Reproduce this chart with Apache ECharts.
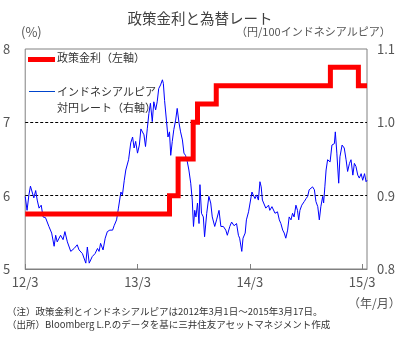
<!DOCTYPE html>
<html><head><meta charset="utf-8">
<script src="https://cdn.jsdelivr.net/npm/echarts@6/dist/echarts.min.js"></script>
<style>html,body{margin:0;padding:0;background:#fff}#c{width:407px;height:342px}</style>
</head><body><div id="c"></div>
<script>
const titleText = '政策金利と為替レート';
const leftUnit = '(%)';
const rightUnit = '（円/100インドネシアルピア）';
const xUnit = '（年/月）';
const note1 = '（注）政策金利とインドネシアルピアは2012年3月1日～2015年3月17日。';
const note2 = '（出所）Bloomberg L.P.のデータを基に三井住友アセットマネジメント作成';
const rateName = '政策金利（左軸）';
const fxName = 'インドネシアルピア\n対円レート（右軸）';

const tickDates = ['2012-03-01','2013-03-01','2014-03-01','2015-03-01'];
const tickLabels = ['12/3','13/3','14/3','15/3'];

const rateDates = ['2012-03-01','2013-06-13','2013-07-11','2013-08-29','2013-09-12','2013-11-12','2014-11-18','2015-02-17','2015-03-17'];
const rateValues = [5.75,6.00,6.50,7.00,7.25,7.50,7.75,7.50,7.50];

const fxDates = [
'2012-03-01','2012-03-07','2012-03-13','2012-03-18','2012-03-24','2012-03-29','2012-04-04','2012-04-09','2012-04-15','2012-04-22',
'2012-04-28','2012-05-06','2012-05-17','2012-05-26','2012-06-03','2012-06-08','2012-06-13','2012-06-24','2012-07-02','2012-07-08',
'2012-07-16','2012-07-27','2012-08-07','2012-08-17','2012-08-23','2012-09-03','2012-09-08','2012-09-14','2012-09-19','2012-09-25',
'2012-10-05','2012-10-14','2012-10-22','2012-10-27','2012-11-01','2012-11-09','2012-11-16','2012-11-23','2012-12-01','2012-12-10',
'2012-12-15','2012-12-23','2012-12-29','2013-01-06','2013-01-11','2013-01-17','2013-01-22','2013-01-31','2013-02-07','2013-02-13',
'2013-02-18','2013-02-23','2013-03-01','2013-03-07','2013-03-12','2013-03-16','2013-03-22','2013-03-27','2013-04-02','2013-04-07',
'2013-04-12','2013-04-18','2013-04-23','2013-04-29','2013-05-04','2013-05-09','2013-05-15','2013-05-21','2013-05-24','2013-05-28',
'2013-06-03','2013-06-08','2013-06-13','2013-06-17','2013-06-22','2013-06-27','2013-07-03','2013-07-08','2013-07-14','2013-07-19',
'2013-07-25','2013-07-30','2013-08-04','2013-08-10','2013-08-15','2013-08-21','2013-08-26','2013-08-30','2013-09-03','2013-09-07',
'2013-09-12','2013-09-17','2013-09-20','2013-09-25','2013-10-01','2013-10-05','2013-10-12','2013-10-19','2013-10-25','2013-10-30',
'2013-11-07','2013-11-13','2013-11-21','2013-11-27','2013-12-05','2013-12-13','2013-12-18','2013-12-26','2014-01-01','2014-01-09',
'2014-01-17','2014-01-23','2014-01-27','2014-02-03','2014-02-07','2014-02-14','2014-02-18','2014-02-25','2014-03-01','2014-03-08',
'2014-03-12','2014-03-18','2014-03-23','2014-03-29','2014-04-03','2014-04-07','2014-04-11','2014-04-17','2014-04-22','2014-05-01',
'2014-05-05','2014-05-12','2014-05-16','2014-05-22','2014-05-30','2014-06-05','2014-06-10','2014-06-16','2014-06-21','2014-06-26',
'2014-07-02','2014-07-07','2014-07-13','2014-07-18','2014-07-23','2014-07-29','2014-08-03','2014-08-07','2014-08-11','2014-08-17',
'2014-08-25','2014-08-31','2014-09-05','2014-09-10','2014-09-16','2014-09-21','2014-09-27','2014-10-02','2014-10-08','2014-10-13',
'2014-10-18','2014-10-24','2014-10-27','2014-10-31','2014-11-04','2014-11-09','2014-11-17','2014-11-23','2014-12-01','2014-12-04',
'2014-12-09','2014-12-15','2014-12-19','2014-12-26','2015-01-02','2015-01-08','2015-01-13','2015-01-19','2015-01-24','2015-01-30',
'2015-02-04','2015-02-09','2015-02-15','2015-02-20','2015-02-26','2015-03-03','2015-03-09','2015-03-14','2015-03-17'
];
const fxValues = [
0.899,0.880,0.901,0.913,0.912,0.897,0.907,0.894,0.883,0.887,
0.871,0.870,0.858,0.849,0.831,0.846,0.837,0.846,0.840,0.851,
0.837,0.824,0.828,0.833,0.826,0.821,0.815,0.808,0.830,0.808,
0.817,0.821,0.828,0.824,0.835,0.826,0.842,0.851,0.853,0.853,
0.859,0.867,0.883,0.905,0.901,0.921,0.935,0.949,0.972,0.980,
0.965,0.974,0.958,0.969,0.991,0.990,0.983,0.967,0.992,1.012,
1.026,1.001,1.028,1.017,1.028,1.046,1.051,1.058,1.053,1.030,
1.003,0.980,0.987,0.955,0.974,0.990,1.003,1.019,0.999,0.987,
0.976,0.958,0.955,0.946,0.935,0.917,0.894,0.858,0.880,0.871,
0.890,0.862,0.915,0.876,0.871,0.844,0.876,0.899,0.890,0.871,
0.858,0.867,0.880,0.858,0.858,0.853,0.846,0.858,0.864,0.859,
0.862,0.846,0.842,0.824,0.842,0.849,0.867,0.878,0.880,0.905,
0.901,0.896,0.901,0.894,0.919,0.912,0.894,0.896,0.883,0.887,
0.880,0.885,0.887,0.876,0.878,0.867,0.862,0.853,0.849,0.842,
0.853,0.871,0.867,0.876,0.871,0.887,0.880,0.867,0.880,0.887,
0.892,0.896,0.899,0.908,0.910,0.912,0.908,0.892,0.885,0.867,
0.885,0.899,0.890,0.912,0.935,0.949,0.946,0.969,0.971,0.987,
0.958,0.917,0.953,0.969,0.965,0.949,0.933,0.944,0.949,0.928,
0.944,0.940,0.928,0.924,0.930,0.921,0.930,0.919,0.921
];

const FONT = '"Noto Sans CJK JP", sans-serif';
const DAY = 86400000;
const t0 = Date.UTC(2012, 2, 1);
function dayOf(s) {
  const p = s.split('-').map(Number);
  return Math.round((Date.UTC(p[0], p[1] - 1, p[2]) - t0) / DAY);
}
const tickDays = tickDates.map(dayOf);

const chart = echarts.init(document.getElementById('c'), null, {renderer: 'canvas'});

chart.setOption({
  animation: false,
  backgroundColor: '#fff',
  textStyle: {fontFamily: FONT},
  title: {
    text: titleText, left: 195, top: 6, textAlign: 'center',
    textStyle: {fontSize: 14.5, fontWeight: 'normal', color: '#404040', fontFamily: FONT}
  },
  grid: {left: 25, right: 40, top: 49, bottom: 73, show: true, borderColor: '#808080', borderWidth: 1, backgroundColor: 'transparent'},
  xAxis: {
    type: 'value', min: 0, max: dayOf(rateDates[rateDates.length - 1]),
    axisLine: {show: true, lineStyle: {color: '#808080'}},
    axisTick: {show: true, inside: true, length: 5, lineStyle: {color: '#808080'}, customValues: tickDays},
    axisLabel: {
      customValues: tickDays, fontSize: 13, color: '#555', margin: 7, fontFamily: FONT,
      formatter: v => { const i = tickDays.indexOf(Math.round(v)); return i >= 0 ? tickLabels[i] : ''; }
    },
    splitLine: {show: false}
  },
  yAxis: [{
    type: 'value', min: 5, max: 8, interval: 1, position: 'left',
    axisLine: {show: false}, axisTick: {show: false},
    axisLabel: {fontSize: 13, color: '#555', margin: 15, fontFamily: FONT},
    splitLine: {show: true, showMinLine: false, showMaxLine: false, lineStyle: {color: '#000', type: [3, 2], width: 1}}
  }, {
    type: 'value', min: 0.8, max: 1.1, interval: 0.1, position: 'right',
    axisLine: {show: false}, axisTick: {show: false},
    axisLabel: {fontSize: 13, color: '#555', margin: 10, fontFamily: FONT, formatter: v => v.toFixed(1)},
    splitLine: {show: false}
  }],
  series: [{
    name: fxName, type: 'line', yAxisIndex: 1, showSymbol: false, symbol: 'none',
    lineStyle: {color: '#0000ff', width: 1}, z: 2,
    data: fxDates.map((d, i) => [dayOf(d), fxValues[i]])
  }, {
    name: rateName, type: 'line', yAxisIndex: 0, step: 'end', showSymbol: false, symbol: 'none',
    lineStyle: {color: '#ff0000', width: 5, cap: 'butt', join: 'miter'}, z: 3,
    data: rateDates.map((d, i) => [dayOf(d), rateValues[i]])
  }],
  graphic: [
    {type: 'line', shape: {x1: 28, y1: 59.5, x2: 55, y2: 59.5}, style: {stroke: '#ff0000', lineWidth: 5}},
    {type: 'text', left: 57, top: 52, style: {text: rateName, font: '11px ' + FONT, fill: '#333'}},
    {type: 'line', shape: {x1: 29, y1: 91.5, x2: 55, y2: 91.5}, style: {stroke: '#0044cc', lineWidth: 1}},
    {type: 'text', left: 57, top: 84, style: {text: fxName, font: '11px ' + FONT, fill: '#333', lineHeight: 16}},
    {type: 'text', left: 21, top: 26, style: {text: leftUnit, font: '13px ' + FONT, fill: '#555'}},
    {type: 'text', left: 236, top: 26, style: {text: rightUnit, font: '11px ' + FONT, fill: '#555'}},
    {type: 'text', left: 348, top: 297, style: {text: xUnit, font: '12px ' + FONT, fill: '#555'}},
    {type: 'text', left: 7, top: 307, style: {text: note1, font: '9.5px ' + FONT, fill: '#333'}},
    {type: 'text', left: 7, top: 320, style: {text: note2, font: '9.5px ' + FONT, fill: '#333'}}
  ]
});
</script></body></html>
